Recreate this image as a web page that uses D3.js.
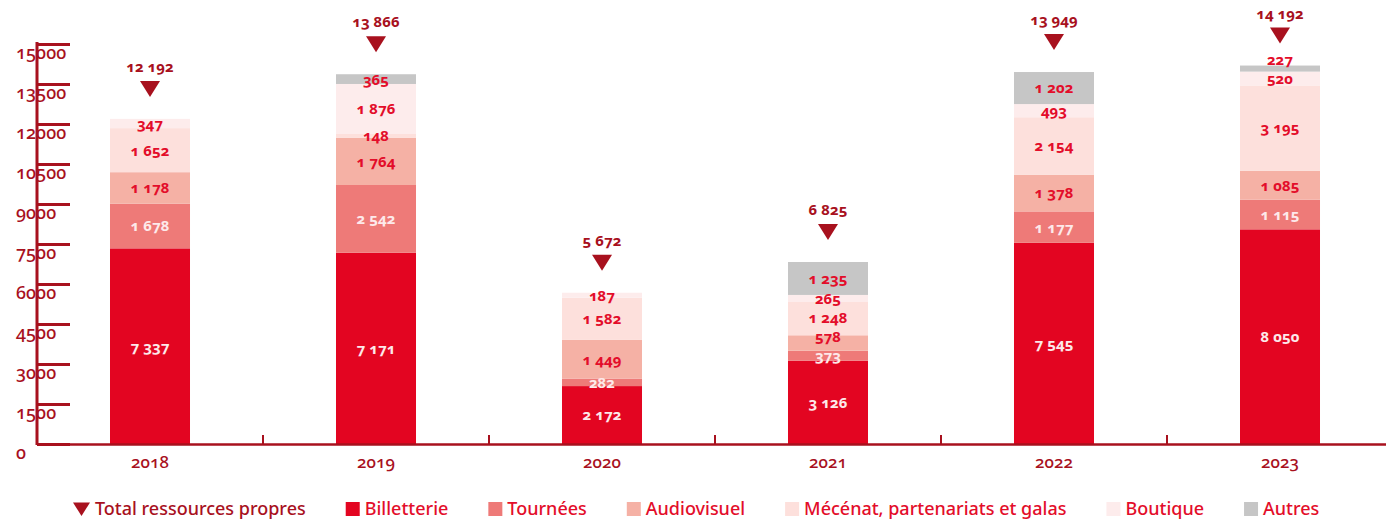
<!DOCTYPE html>
<html>
<head>
<meta charset="utf-8">
<script src="https://cdn.jsdelivr.net/npm/d3@7"></script>
<style>
  html, body { margin: 0; padding: 0; background: #fff; }
  svg { display: block; }
  .num { font-family: "Noto Sans", sans-serif; font-variant-numeric: oldstyle-nums; font-feature-settings: "onum" 1; }
  .legend text { font-family: "Noto Sans", sans-serif; }
</style>
</head>
<body>
<svg id="chart" width="1386" height="527"></svg>
<script>
// Annual own resources, by source
const years = ["2018", "2019", "2020", "2021", "2022", "2023"];
const seriesNames = ["Billetterie", "Tournées", "Audiovisuel", "Mécénat, partenariats et galas", "Boutique", "Autres"];
const billetterie = [7337, 7171, 2172, 3126, 7545, 8050];
const tournees    = [1678, 2542, 282, 373, 1177, 1115];
const audiovisuel = [1178, 1764, 1449, 578, 1378, 1085];
const mecenat     = [1652, 148, 1582, 1248, 2154, 3195];
const boutique    = [347, 1876, 187, 265, 493, 520];
const autres      = [0, 365, 0, 1235, 1202, 227];
const totals      = [12192, 13866, 5672, 6825, 13949, 14192];
const yTicks      = [0, 1500, 3000, 4500, 6000, 7500, 9000, 10500, 12000, 13500, 15000];
const totalLabel  = "Total ressources propres";

const seriesValues = [billetterie, tournees, audiovisuel, mecenat, boutique, autres];
const fillColors  = ["#e30521", "#ee7a78", "#f5b1a5", "#fde0dc", "#fdecec", "#c6c6c6"];
const labelColors = ["#fde9ea", "#fde9ea", "#e30d2a", "#e30d2a", "#e30d2a", "#e30d2a"];
const darkRed = "#a8111e";
const red = "#e30d2a";

const fmt = v => d3.format(",")(v).replace(/,/g, " ");

const rows = years.map((yr, i) => {
  const r = { year: yr, total: totals[i] };
  seriesNames.forEach((s, k) => r[s] = seriesValues[k][i]);
  return r;
});

const svg = d3.select("#chart");

const x = d3.scaleBand().domain(years).range([37, 1393]).paddingInner(0.646).paddingOuter(0.323);
const xCells = d3.scaleBand().domain(years).range([37, 1393]).padding(0);
const y = d3.scaleLinear().domain([0, 15000]).range([444, 44]);

const stacked = d3.stack().keys(seriesNames)(rows);

// stacked bars
const layers = svg.append("g").selectAll("g").data(stacked).join("g")
  .attr("fill", (d, k) => fillColors[k]);
layers.selectAll("rect").data(d => d).join("rect")
  .attr("x", d => x(d.data.year))
  .attr("width", x.bandwidth())
  .attr("y", d => y(d[1]))
  .attr("height", d => y(d[0]) - y(d[1]));

// segment value labels, stacked upward so thin segments don't collide
const minGap = 19;
const segLabels = [];
years.forEach((yr, i) => {
  let prev = Infinity;
  stacked.forEach((layer, k) => {
    const s = layer[i];
    const v = s[1] - s[0];
    if (v <= 0) return;
    let cy = (y(s[0]) + y(s[1])) / 2;
    if (prev - cy < minGap) cy = prev - minGap;
    prev = cy;
    segLabels.push({ year: yr, value: v, cy, color: labelColors[k] });
  });
});
svg.append("g").selectAll("text").data(segLabels).join("text")
  .attr("class", "num")
  .attr("x", d => x(d.year) + x.bandwidth() / 2)
  .attr("y", d => d.cy)
  .attr("dy", "0.36em")
  .attr("text-anchor", "middle")
  .attr("fill", d => d.color)
  .style("font-size", "15px")
  .style("font-weight", "700")
  .text(d => fmt(d.value));

// total markers
const triW = 20, triH = 16, triGap = 22;
const totalsG = svg.append("g").selectAll("g").data(rows).join("g")
  .attr("transform", d => `translate(${x(d.year) + x.bandwidth() / 2},${y(d.total) - triGap})`);
totalsG.append("path")
  .attr("d", `M${-triW / 2},${-triH}L${triW / 2},${-triH}L0,0Z`)
  .attr("fill", darkRed);
totalsG.append("text")
  .attr("class", "num")
  .attr("y", -triH - 9)
  .attr("text-anchor", "middle")
  .attr("fill", darkRed)
  .style("font-size", "15px")
  .style("font-weight", "700")
  .text(d => fmt(d.total));

// y axis
const yAxis = svg.append("g")
  .attr("transform", "translate(37,0)")
  .call(d3.axisRight(y).tickValues(yTicks).tickSize(33).tickFormat(d => String(d)));
yAxis.select(".domain").attr("stroke", darkRed).attr("stroke-width", 3)
  .attr("d", `M0,${y(15000) - 2}V${y(0) + 1}`);
yAxis.selectAll(".tick line").attr("stroke", darkRed).attr("stroke-width", 3);
yAxis.selectAll(".tick text")
  .attr("class", "num")
  .attr("x", -21).attr("dy", "0.8em")
  .attr("text-anchor", "start")
  .attr("fill", darkRed)
  .style("font-size", "18px")
  .style("font-weight", "500");

// x axis baseline, category labels and dividers
const xAxis = svg.append("g")
  .attr("transform", `translate(0,${y(0)})`)
  .call(d3.axisBottom(x).tickSize(0).tickPadding(12));
xAxis.select(".domain").attr("stroke", darkRed).attr("stroke-width", 2.5)
  .attr("d", "M37,0.5H1386");
xAxis.selectAll(".tick text")
  .attr("class", "num")
  .attr("fill", darkRed)
  .style("font-size", "17px")
  .style("font-weight", "500");
xAxis.append("g").selectAll("line").data(years.slice(0, -1)).join("line")
  .attr("x1", d => xCells(d) + xCells.bandwidth())
  .attr("x2", d => xCells(d) + xCells.bandwidth())
  .attr("y1", -9).attr("y2", 0)
  .attr("stroke", darkRed).attr("stroke-width", 2);

// legend
const legend = svg.append("g").attr("class", "legend").attr("transform", "translate(73,509)");
const legendItems = [{ name: totalLabel, marker: "tri", color: darkRed }]
  .concat(seriesNames.map((s, k) => ({ name: s, marker: "sq", fill: fillColors[k], color: red })));
let cursor = 0;
legendItems.forEach(item => {
  const g = legend.append("g").attr("transform", `translate(${cursor},0)`);
  let markerW;
  if (item.marker === "tri") {
    markerW = 17;
    g.append("path").attr("d", "M0,-6.5L17,-6.5L8.5,7Z").attr("fill", darkRed);
  } else {
    markerW = 14;
    g.append("rect").attr("x", 0).attr("y", -7).attr("width", 14).attr("height", 14).attr("fill", item.fill);
  }
  const t = g.append("text")
    .attr("x", markerW + 5)
    .attr("dy", "0.35em")
    .attr("fill", item.color)
    .style("font-size", "18px")
    .style("font-weight", "500")
    .text(item.name);
  cursor += markerW + 5 + t.node().getComputedTextLength() + 40;
});
</script>
</body>
</html>
